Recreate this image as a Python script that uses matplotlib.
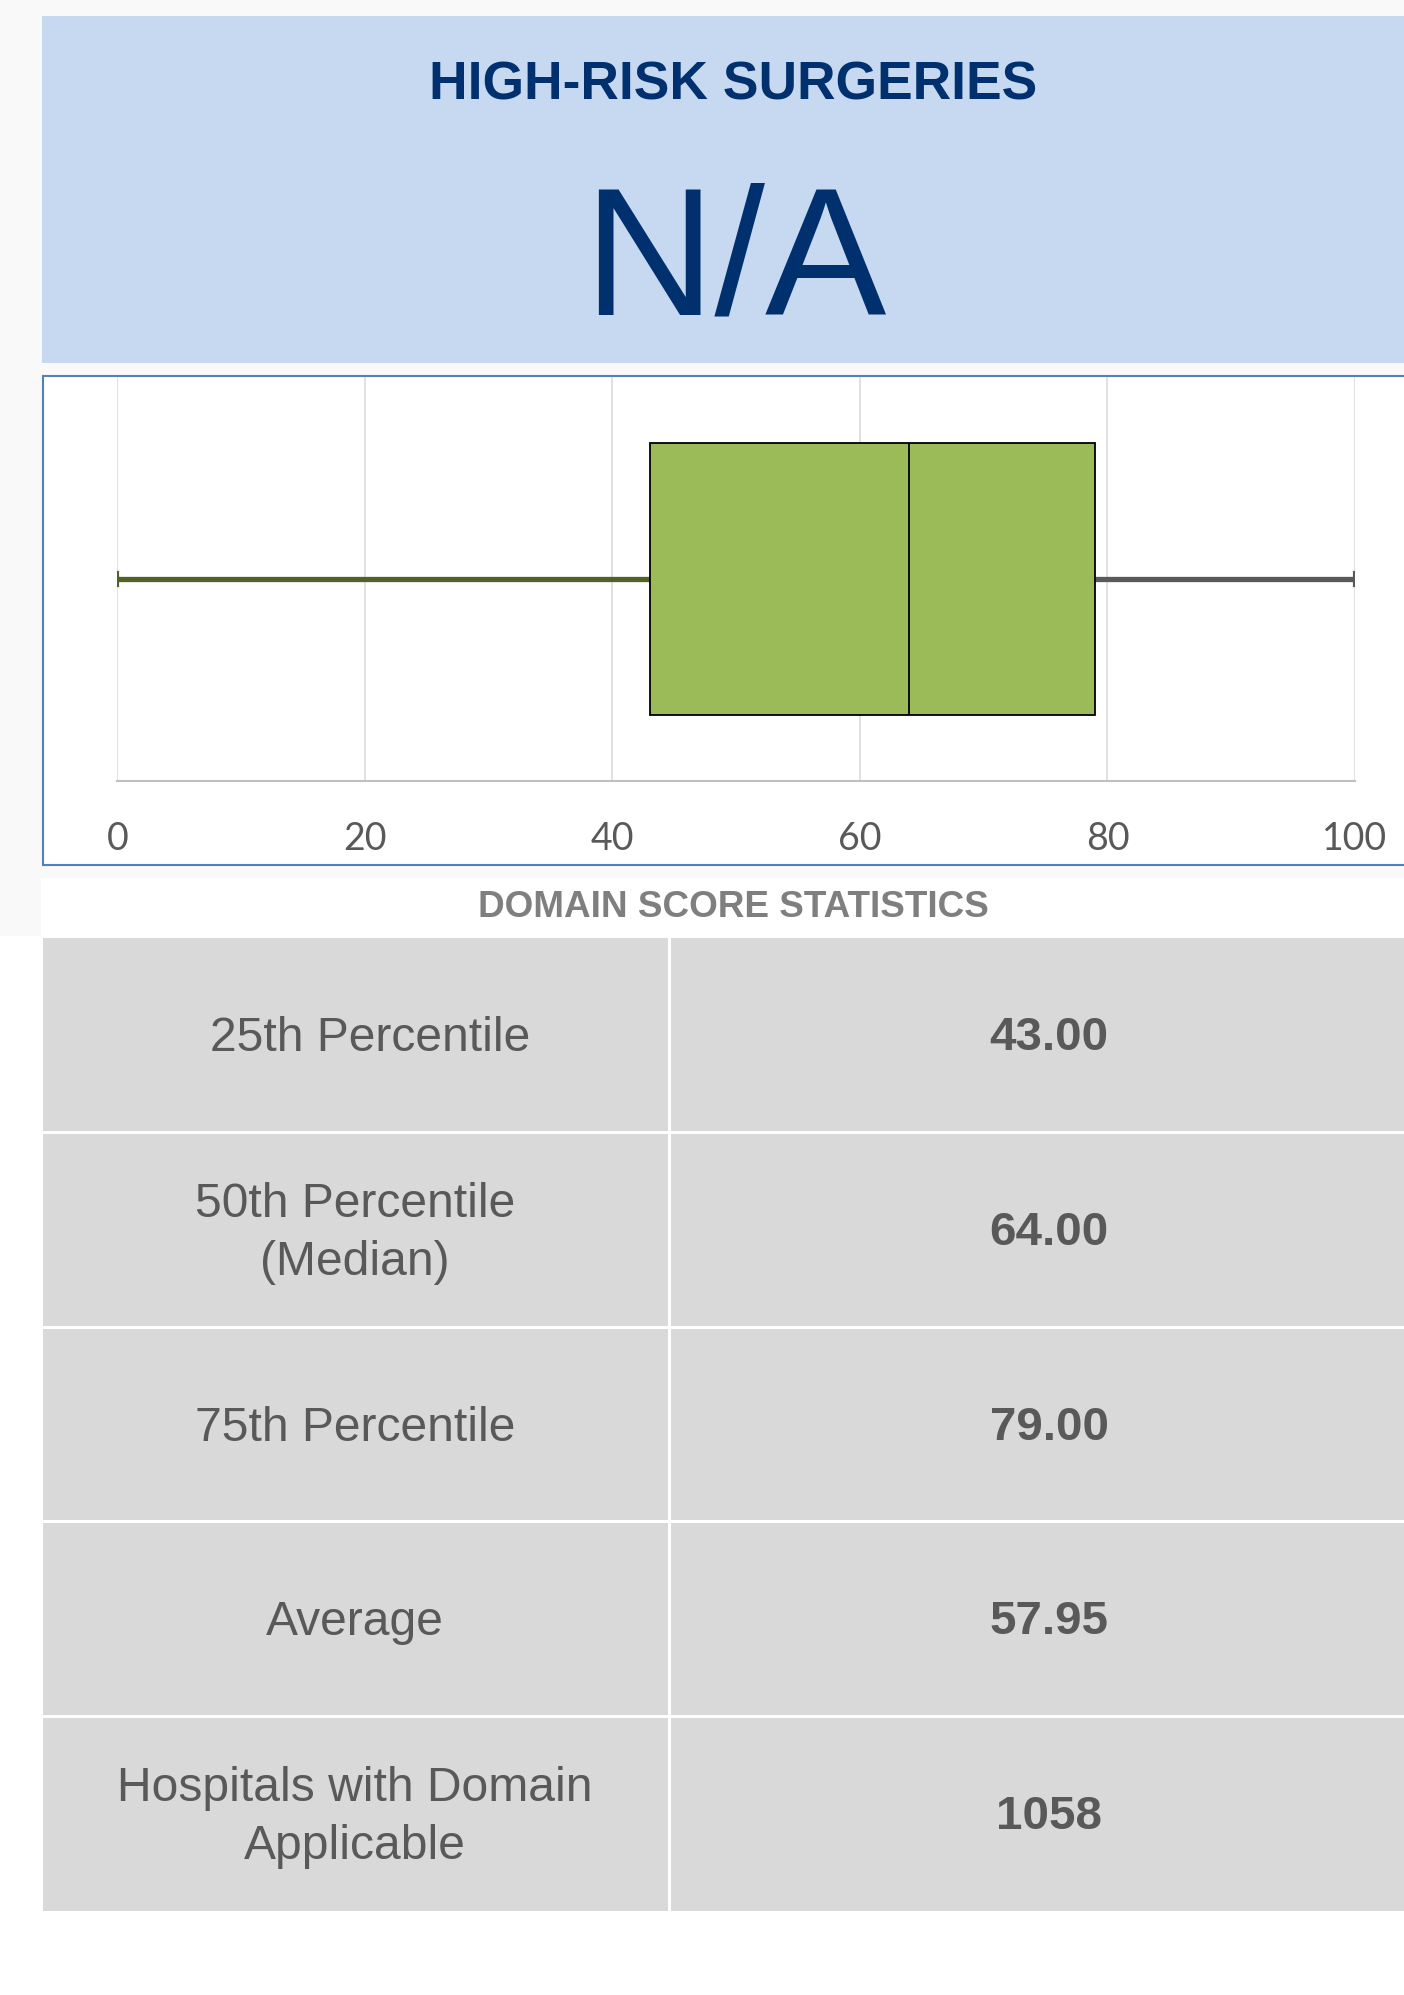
import matplotlib
matplotlib.use("Agg")
import matplotlib.pyplot as plt
from matplotlib.patches import Rectangle

# data
title = "HIGH-RISK SURGERIES"
headline = "N/A"
section = "DOMAIN SCORE STATISTICS"
stat_labels = ["25th Percentile", "50th Percentile\n(Median)", "75th Percentile",
               "Average", "Hospitals with Domain\nApplicable"]
stat_values = [43.00, 64.00, 79.00, 57.95, 1058]
q1, med, q3 = 43.0, 64.0, 79.0
whis_lo, whis_hi = 0.0, 100.0
ticks = [0, 20, 40, 60, 80, 100]

W, H = 1404, 1995
navy = "#00306e"
txt_gray = "#595959"

fig = plt.figure(figsize=(W / 100, H / 100), dpi=100)
fig.patch.set_facecolor("white")

# full page axes in pixel coords
bg = fig.add_axes([0, 0, 1, 1])
bg.set_xlim(0, W)
bg.set_ylim(H, 0)
bg.axis("off")

bg.add_patch(Rectangle((0, 0), W, 878, facecolor="#f9f9f9", edgecolor="none"))
bg.add_patch(Rectangle((0, 878), 41, 58, facecolor="#f9f9f9", edgecolor="none"))

# header
bg.add_patch(Rectangle((42, 16), W, 347, facecolor="#c6d9f1", edgecolor="none"))
bg.text(733, 99, title, ha="center", va="baseline", color=navy,
        fontsize=38.4, fontweight="bold", family="Liberation Sans")
bg.text(735, 314, headline, ha="center", va="baseline", color=navy,
        fontsize=131, family="Liberation Sans")

# chart frame
bg.add_patch(Rectangle((43, 376), W, 489, facecolor="white",
                       edgecolor="#4f81bd", linewidth=1.5))

bg.text(733, 917, section, ha="center", va="baseline", color="#7f7f7f",
        fontsize=26.6, fontweight="bold", family="Liberation Sans")

# table
top, row_h = 938, 194.6
n = len(stat_labels)
bg.add_patch(Rectangle((43, top), W, row_h * n, facecolor="#d9d9d9", edgecolor="none"))
for k in range(1, n):
    bg.add_patch(Rectangle((43, top + k * row_h - 1.5), W, 3, facecolor="white", edgecolor="none"))
bg.add_patch(Rectangle((668, top), 2.5, row_h * n, facecolor="white", edgecolor="none"))

lab_em, val_em = 48, 47.5
for i, (lab, val) in enumerate(zip(stat_labels, stat_values)):
    cy = top + row_h * (i + 0.5)
    lines = lab.split("\n")
    lx = 370 if i == 0 else 355
    for j, line in enumerate(lines):
        c = cy + (j - (len(lines) - 1) / 2) * 58 - 1
        bg.text(lx, c + 0.716 * lab_em / 2, line, ha="center", va="baseline",
                color=txt_gray, fontsize=lab_em * 0.72, family="Liberation Sans")
    s = f"{val:.2f}" if i < n - 1 else f"{int(val)}"
    bg.text(1049, cy - 2 + 0.716 * val_em / 2, s, ha="center", va="baseline",
            color=txt_gray, fontsize=val_em * 0.72, fontweight="bold",
            family="Liberation Sans")

# box plot
x0, x1, y0, y1 = 117.4, 1355, 377, 781
ax = fig.add_axes([x0 / W, 1 - y1 / H, (x1 - x0) / W, (y1 - y0) / H])
ax.set_facecolor("none")
stats = [dict(med=med, q1=q1, q3=q3, whislo=whis_lo, whishi=whis_hi, fliers=[])]
art = ax.bxp(stats, positions=[1], widths=0.672, capwidths=0.03,
             orientation="horizontal", patch_artist=True, showfliers=False,
             boxprops=dict(facecolor="#9bbb59", edgecolor="black", linewidth=1.3),
             medianprops=dict(color="black", linewidth=1.3),
             whiskerprops=dict(linewidth=3.8),
             capprops=dict(linewidth=3))
for line, col in zip(art["whiskers"], ["#4f6228", "#595959"]):
    line.set_color(col)
    line.set_solid_capstyle("butt")
for line, col in zip(art["caps"], ["#4f6228", "#595959"]):
    line.set_color(col)
for b in art["boxes"]:
    b.set_zorder(3)
art["medians"][0].set_zorder(4)

ax.set_xlim(0, 100)
ax.set_ylim(0.5, 1.5)
ax.set_xticks(ticks)
ax.set_xticklabels([str(t) for t in ticks], fontsize=27, family="Lato", color=txt_gray)
ax.set_yticks([])
ax.tick_params(axis="x", length=0, pad=29)
ax.grid(axis="x", color="#d9d9d9", linewidth=1.1, zorder=0)
ax.set_axisbelow(True)
for sp in ["top", "left", "right"]:
    ax.spines[sp].set_visible(False)
ax.spines["bottom"].set_color("#bfbfbf")
ax.spines["bottom"].set_linewidth(1.5)

fig.savefig("out.png", dpi=100)
